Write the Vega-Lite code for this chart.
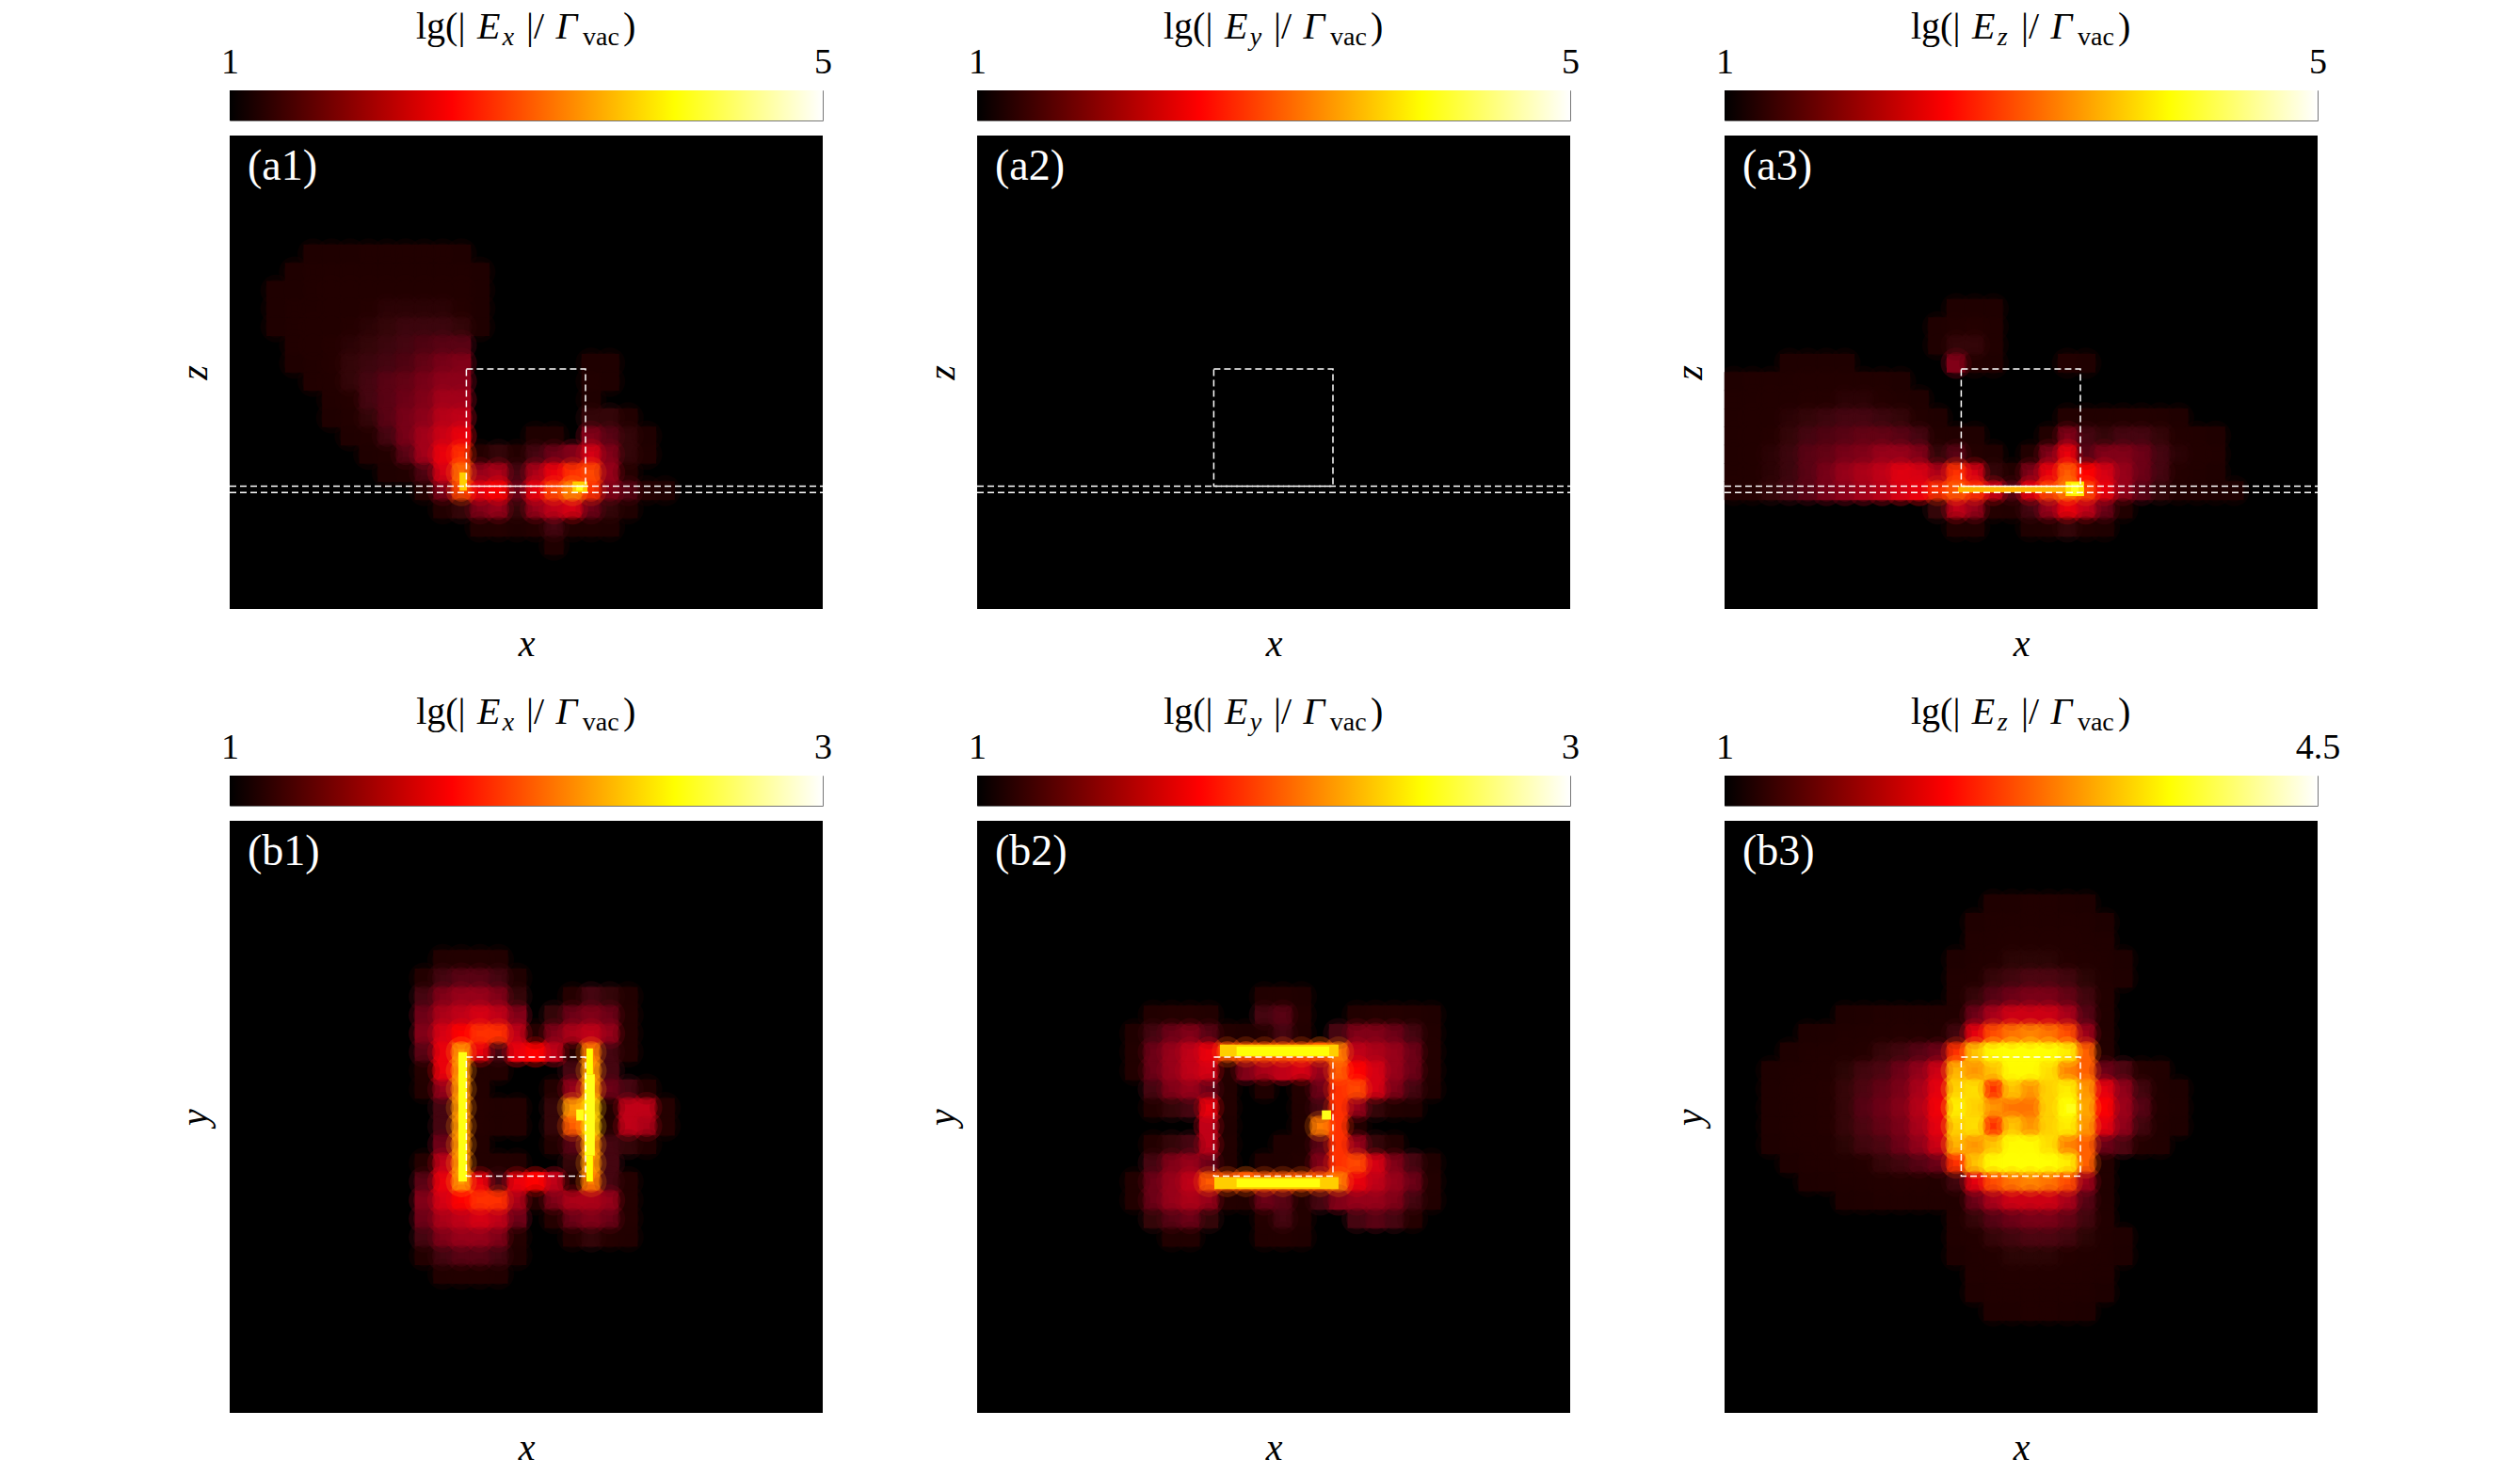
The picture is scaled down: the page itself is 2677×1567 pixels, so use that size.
{"$schema":"https://vega.github.io/schema/vega-lite/v6.json","background":"white","padding":{"left":187,"top":8,"right":0,"bottom":0},"resolve":{"scale":{"color":"independent"}},"config":{"view":{"stroke":null},"text":{"font":"Liberation Serif"},"axis":{"titleFont":"Liberation Serif","titleFontStyle":"italic","titleFontWeight":"normal","titleFontSize":40,"titleColor":"black","labels":false,"ticks":false,"domain":false,"grid":false,"titlePadding":17}},
"datasets":{
"a1":[
{"x":4,"y":6,"v":1.05},{"x":5,"y":6,"v":1.1},{"x":6,"y":6,"v":1.1},{"x":7,"y":6,"v":1.15},{"x":8,"y":6,"v":1.15},{"x":9,"y":6,"v":1.15},{"x":10,"y":6,"v":1.15},{"x":11,"y":6,"v":1.15},{"x":12,"y":6,"v":1.1},
{"x":3,"y":7,"v":1.05},{"x":4,"y":7,"v":1.15},{"x":5,"y":7,"v":1.2},{"x":6,"y":7,"v":1.2},{"x":7,"y":7,"v":1.25},{"x":8,"y":7,"v":1.25},{"x":9,"y":7,"v":1.25},{"x":10,"y":7,"v":1.25},{"x":11,"y":7,"v":1.25},{"x":12,"y":7,"v":1.2},{"x":13,"y":7,"v":1.05},
{"x":2,"y":8,"v":1.05},{"x":3,"y":8,"v":1.1},{"x":4,"y":8,"v":1.2},{"x":5,"y":8,"v":1.3},{"x":6,"y":8,"v":1.3},{"x":7,"y":8,"v":1.35},{"x":8,"y":8,"v":1.35},{"x":9,"y":8,"v":1.35},{"x":10,"y":8,"v":1.35},{"x":11,"y":8,"v":1.35},{"x":12,"y":8,"v":1.3},{"x":13,"y":8,"v":1.1},
{"x":2,"y":9,"v":1.05},{"x":3,"y":9,"v":1.15},{"x":4,"y":9,"v":1.25},{"x":5,"y":9,"v":1.3},{"x":6,"y":9,"v":1.35},{"x":7,"y":9,"v":1.4},{"x":8,"y":9,"v":1.45},{"x":9,"y":9,"v":1.45},{"x":10,"y":9,"v":1.45},{"x":11,"y":9,"v":1.45},{"x":12,"y":9,"v":1.4},{"x":13,"y":9,"v":1.1},
{"x":2,"y":10,"v":1.05},{"x":3,"y":10,"v":1.15},{"x":4,"y":10,"v":1.3},{"x":5,"y":10,"v":1.35},{"x":6,"y":10,"v":1.4},{"x":7,"y":10,"v":1.45},{"x":8,"y":10,"v":1.5},{"x":9,"y":10,"v":1.55},{"x":10,"y":10,"v":1.55},{"x":11,"y":10,"v":1.55},{"x":12,"y":10,"v":1.5},{"x":13,"y":10,"v":1.05},
{"x":3,"y":11,"v":1.15},{"x":4,"y":11,"v":1.3},{"x":5,"y":11,"v":1.4},{"x":6,"y":11,"v":1.45},{"x":7,"y":11,"v":1.5},{"x":8,"y":11,"v":1.55},{"x":9,"y":11,"v":1.6},{"x":10,"y":11,"v":1.65},{"x":11,"y":11,"v":1.7},{"x":12,"y":11,"v":1.7},
{"x":3,"y":12,"v":1.1},{"x":4,"y":12,"v":1.25},{"x":5,"y":12,"v":1.4},{"x":6,"y":12,"v":1.5},{"x":7,"y":12,"v":1.55},{"x":8,"y":12,"v":1.6},{"x":9,"y":12,"v":1.65},{"x":10,"y":12,"v":1.75},{"x":11,"y":12,"v":1.85},{"x":12,"y":12,"v":1.9},{"x":19,"y":12,"v":1.1},{"x":20,"y":12,"v":1.05},
{"x":4,"y":13,"v":1.2},{"x":5,"y":13,"v":1.35},{"x":6,"y":13,"v":1.5},{"x":7,"y":13,"v":1.6},{"x":8,"y":13,"v":1.7},{"x":9,"y":13,"v":1.75},{"x":10,"y":13,"v":1.85},{"x":11,"y":13,"v":1.95},{"x":12,"y":13,"v":1.95},{"x":19,"y":13,"v":1.2},{"x":20,"y":13,"v":1.1},
{"x":5,"y":14,"v":1.2},{"x":6,"y":14,"v":1.4},{"x":7,"y":14,"v":1.6},{"x":8,"y":14,"v":1.7},{"x":9,"y":14,"v":1.8},{"x":10,"y":14,"v":1.9},{"x":11,"y":14,"v":2.05},{"x":12,"y":14,"v":2.05},{"x":19,"y":14,"v":1.1},
{"x":5,"y":15,"v":1.1},{"x":6,"y":15,"v":1.3},{"x":7,"y":15,"v":1.5},{"x":8,"y":15,"v":1.7},{"x":9,"y":15,"v":1.85},{"x":10,"y":15,"v":1.95},{"x":11,"y":15,"v":2.15},{"x":12,"y":15,"v":2.2},{"x":19,"y":15,"v":1.5},{"x":20,"y":15,"v":1.5},{"x":21,"y":15,"v":1.2},
{"x":6,"y":16,"v":1.1},{"x":7,"y":16,"v":1.35},{"x":8,"y":16,"v":1.6},{"x":9,"y":16,"v":1.85},{"x":10,"y":16,"v":2.05},{"x":11,"y":16,"v":2.25},{"x":12,"y":16,"v":2.4},{"x":16,"y":16,"v":1.1},{"x":17,"y":16,"v":1.1},{"x":19,"y":16,"v":1.9},{"x":20,"y":16,"v":1.7},{"x":21,"y":16,"v":1.5},{"x":22,"y":16,"v":1.1},
{"x":7,"y":17,"v":1.1},{"x":8,"y":17,"v":1.35},{"x":9,"y":17,"v":1.7},{"x":10,"y":17,"v":2.05},{"x":11,"y":17,"v":2.4},{"x":12,"y":17,"v":2.6},{"x":13,"y":17,"v":1.4},{"x":14,"y":17,"v":1.5},{"x":15,"y":17,"v":1.3},{"x":16,"y":17,"v":1.6},{"x":17,"y":17,"v":1.8},{"x":18,"y":17,"v":1.9},{"x":19,"y":17,"v":2.3},{"x":20,"y":17,"v":1.9},{"x":21,"y":17,"v":1.5},{"x":22,"y":17,"v":1.15},
{"x":8,"y":18,"v":1.05},{"x":9,"y":18,"v":1.2},{"x":10,"y":18,"v":1.65},{"x":11,"y":18,"v":2.3},{"x":12,"y":18,"v":2.9},{"x":13,"y":18,"v":2},{"x":14,"y":18,"v":2.1},{"x":15,"y":18,"v":1.6},{"x":16,"y":18,"v":2.1},{"x":17,"y":18,"v":2.4},{"x":18,"y":18,"v":2.6},{"x":19,"y":18,"v":2.7},{"x":20,"y":18,"v":2},{"x":21,"y":18,"v":1.4},
{"x":10,"y":19,"v":1.3},{"x":11,"y":19,"v":1.9},{"x":12,"y":19,"v":2.7},{"x":13,"y":19,"v":2.4},{"x":14,"y":19,"v":2.5},{"x":15,"y":19,"v":1.8},{"x":16,"y":19,"v":2.4},{"x":17,"y":19,"v":2.7},{"x":18,"y":19,"v":3.1},{"x":19,"y":19,"v":2.6},{"x":20,"y":19,"v":1.9},{"x":21,"y":19,"v":1.7},{"x":22,"y":19,"v":1.4},{"x":23,"y":19,"v":1.1},
{"x":11,"y":20,"v":1.2},{"x":12,"y":20,"v":1.5},{"x":13,"y":20,"v":1.9},{"x":14,"y":20,"v":2},{"x":15,"y":20,"v":1.5},{"x":16,"y":20,"v":2},{"x":17,"y":20,"v":2.2},{"x":18,"y":20,"v":2.3},{"x":19,"y":20,"v":1.8},{"x":20,"y":20,"v":1.5},{"x":21,"y":20,"v":1.1},
{"x":13,"y":21,"v":1.2},{"x":14,"y":21,"v":1.4},{"x":15,"y":21,"v":1.1},{"x":16,"y":21,"v":1.4},{"x":17,"y":21,"v":1.6},{"x":18,"y":21,"v":1.2},{"x":19,"y":21,"v":1.2},{"x":20,"y":21,"v":1.05},{"x":17,"y":22,"v":1.1}],
"a1o":[{"x":11.9,"x2":12.3,"y":18,"y2":19,"v":3.6},{"x":18,"x2":18.8,"y":18.5,"y2":19.1,"v":3.6},{"x":18.2,"x2":18.55,"y":18.7,"y2":19,"v":5}],
"a3":[
{"x":12,"y":9,"v":1.05},{"x":13,"y":9,"v":1.1},{"x":14,"y":9,"v":1.05},
{"x":11,"y":10,"v":1.1},{"x":12,"y":10,"v":1.3},{"x":13,"y":10,"v":1.4},{"x":14,"y":10,"v":1.25},
{"x":11,"y":11,"v":1.1},{"x":12,"y":11,"v":1.5},{"x":13,"y":11,"v":1.5},{"x":14,"y":11,"v":1.2},
{"x":3,"y":12,"v":1.05},{"x":4,"y":12,"v":1.05},{"x":5,"y":12,"v":1.05},{"x":6,"y":12,"v":1.05},{"x":12,"y":12,"v":1.9},{"x":13,"y":12,"v":1.3},{"x":14,"y":12,"v":1.05},{"x":18,"y":12,"v":1.3},{"x":19,"y":12,"v":1.1},
{"x":0,"y":13,"v":1.1},{"x":1,"y":13,"v":1.15},{"x":2,"y":13,"v":1.2},{"x":3,"y":13,"v":1.25},{"x":4,"y":13,"v":1.3},{"x":5,"y":13,"v":1.3},{"x":6,"y":13,"v":1.3},{"x":7,"y":13,"v":1.25},{"x":8,"y":13,"v":1.15},{"x":9,"y":13,"v":1.05},
{"x":0,"y":14,"v":1.15},{"x":1,"y":14,"v":1.2},{"x":2,"y":14,"v":1.3},{"x":3,"y":14,"v":1.35},{"x":4,"y":14,"v":1.4},{"x":5,"y":14,"v":1.4},{"x":6,"y":14,"v":1.45},{"x":7,"y":14,"v":1.45},{"x":8,"y":14,"v":1.4},{"x":9,"y":14,"v":1.25},{"x":10,"y":14,"v":1.05},
{"x":0,"y":15,"v":1.2},{"x":1,"y":15,"v":1.3},{"x":2,"y":15,"v":1.35},{"x":3,"y":15,"v":1.45},{"x":4,"y":15,"v":1.5},{"x":5,"y":15,"v":1.55},{"x":6,"y":15,"v":1.6},{"x":7,"y":15,"v":1.6},{"x":8,"y":15,"v":1.55},{"x":9,"y":15,"v":1.5},{"x":10,"y":15,"v":1.3},{"x":11,"y":15,"v":1.05},{"x":18,"y":15,"v":1.3},{"x":19,"y":15,"v":1.2},{"x":20,"y":15,"v":1.2},{"x":21,"y":15,"v":1.3},{"x":22,"y":15,"v":1.3},{"x":23,"y":15,"v":1.2},{"x":24,"y":15,"v":1.1},
{"x":0,"y":16,"v":1.25},{"x":1,"y":16,"v":1.3},{"x":2,"y":16,"v":1.4},{"x":3,"y":16,"v":1.5},{"x":4,"y":16,"v":1.6},{"x":5,"y":16,"v":1.65},{"x":6,"y":16,"v":1.7},{"x":7,"y":16,"v":1.75},{"x":8,"y":16,"v":1.75},{"x":9,"y":16,"v":1.7},{"x":10,"y":16,"v":1.6},{"x":11,"y":16,"v":1.3},{"x":12,"y":16,"v":1.15},{"x":13,"y":16,"v":1.05},{"x":17,"y":16,"v":1.2},{"x":18,"y":16,"v":1.9},{"x":19,"y":16,"v":1.6},{"x":20,"y":16,"v":1.5},{"x":21,"y":16,"v":1.6},{"x":22,"y":16,"v":1.6},{"x":23,"y":16,"v":1.5},{"x":24,"y":16,"v":1.35},{"x":25,"y":16,"v":1.2},{"x":26,"y":16,"v":1.05},
{"x":0,"y":17,"v":1.25},{"x":1,"y":17,"v":1.35},{"x":2,"y":17,"v":1.45},{"x":3,"y":17,"v":1.55},{"x":4,"y":17,"v":1.7},{"x":5,"y":17,"v":1.75},{"x":6,"y":17,"v":1.85},{"x":7,"y":17,"v":1.9},{"x":8,"y":17,"v":2},{"x":9,"y":17,"v":2},{"x":10,"y":17,"v":1.9},{"x":11,"y":17,"v":1.5},{"x":12,"y":17,"v":1.7},{"x":13,"y":17,"v":1.4},{"x":14,"y":17,"v":1.1},{"x":16,"y":17,"v":1.2},{"x":17,"y":17,"v":1.9},{"x":18,"y":17,"v":2.4},{"x":19,"y":17,"v":1.7},{"x":20,"y":17,"v":1.9},{"x":21,"y":17,"v":1.9},{"x":22,"y":17,"v":1.8},{"x":23,"y":17,"v":1.6},{"x":24,"y":17,"v":1.45},{"x":25,"y":17,"v":1.3},{"x":26,"y":17,"v":1.15},
{"x":0,"y":18,"v":1.2},{"x":1,"y":18,"v":1.3},{"x":2,"y":18,"v":1.45},{"x":3,"y":18,"v":1.55},{"x":4,"y":18,"v":1.7},{"x":5,"y":18,"v":1.85},{"x":6,"y":18,"v":2},{"x":7,"y":18,"v":2.1},{"x":8,"y":18,"v":2.2},{"x":9,"y":18,"v":2.35},{"x":10,"y":18,"v":2.3},{"x":11,"y":18,"v":2.1},{"x":12,"y":18,"v":2.6},{"x":13,"y":18,"v":2.3},{"x":14,"y":18,"v":1.5},{"x":15,"y":18,"v":1.2},{"x":16,"y":18,"v":1.9},{"x":17,"y":18,"v":2.4},{"x":18,"y":18,"v":2.8},{"x":19,"y":18,"v":2.5},{"x":20,"y":18,"v":2.3},{"x":21,"y":18,"v":2},{"x":22,"y":18,"v":1.8},{"x":23,"y":18,"v":1.6},{"x":24,"y":18,"v":1.4},{"x":25,"y":18,"v":1.25},{"x":26,"y":18,"v":1.1},
{"x":0,"y":19,"v":1.3},{"x":1,"y":19,"v":1.4},{"x":2,"y":19,"v":1.5},{"x":3,"y":19,"v":1.6},{"x":4,"y":19,"v":1.7},{"x":5,"y":19,"v":1.85},{"x":6,"y":19,"v":1.95},{"x":7,"y":19,"v":2.05},{"x":8,"y":19,"v":2.15},{"x":9,"y":19,"v":2.3},{"x":10,"y":19,"v":2.4},{"x":11,"y":19,"v":2.6},{"x":12,"y":19,"v":2.8},{"x":13,"y":19,"v":2.6},{"x":14,"y":19,"v":2.3},{"x":15,"y":19,"v":1.7},{"x":16,"y":19,"v":2.4},{"x":17,"y":19,"v":2.7},{"x":18,"y":19,"v":3},{"x":19,"y":19,"v":2.7},{"x":20,"y":19,"v":2.4},{"x":21,"y":19,"v":2},{"x":22,"y":19,"v":1.7},{"x":23,"y":19,"v":1.5},{"x":24,"y":19,"v":1.3},{"x":25,"y":19,"v":1.2},{"x":26,"y":19,"v":1.1},{"x":27,"y":19,"v":1.05},
{"x":11,"y":20,"v":1.5},{"x":12,"y":20,"v":2.2},{"x":13,"y":20,"v":2},{"x":14,"y":20,"v":1.4},{"x":15,"y":20,"v":1.3},{"x":16,"y":20,"v":1.6},{"x":17,"y":20,"v":2},{"x":18,"y":20,"v":2.4},{"x":19,"y":20,"v":2.2},{"x":20,"y":20,"v":1.8},{"x":21,"y":20,"v":1.2},
{"x":12,"y":21,"v":1.2},{"x":13,"y":21,"v":1.15},{"x":16,"y":21,"v":1.1},{"x":17,"y":21,"v":1.3},{"x":18,"y":21,"v":1.5},{"x":19,"y":21,"v":1.3},{"x":20,"y":21,"v":1.1}],
"a3o":[{"x":12.1,"x2":18.2,"y":18.76,"y2":19.1,"v":3.4},{"x":17.9,"x2":18.9,"y":18.5,"y2":19.3,"v":3.8},{"x":18.2,"x2":18.6,"y":18.6,"y2":19.2,"v":5}],
"b1":[
{"x":11,"y":7,"v":1.1},{"x":12,"y":7,"v":1.15},{"x":13,"y":7,"v":1.15},{"x":14,"y":7,"v":1.1},
{"x":10,"y":8,"v":1.15},{"x":11,"y":8,"v":1.3},{"x":12,"y":8,"v":1.35},{"x":13,"y":8,"v":1.35},{"x":14,"y":8,"v":1.3},{"x":15,"y":8,"v":1.05},
{"x":10,"y":9,"v":1.3},{"x":11,"y":9,"v":1.45},{"x":12,"y":9,"v":1.5},{"x":13,"y":9,"v":1.5},{"x":14,"y":9,"v":1.45},{"x":15,"y":9,"v":1.25},{"x":18,"y":9,"v":1.2},{"x":19,"y":9,"v":1.3},{"x":20,"y":9,"v":1.25},{"x":21,"y":9,"v":1.1},
{"x":10,"y":10,"v":1.4},{"x":11,"y":10,"v":1.55},{"x":12,"y":10,"v":1.6},{"x":13,"y":10,"v":1.65},{"x":14,"y":10,"v":1.6},{"x":15,"y":10,"v":1.45},{"x":17,"y":10,"v":1.25},{"x":18,"y":10,"v":1.4},{"x":19,"y":10,"v":1.45},{"x":20,"y":10,"v":1.4},{"x":21,"y":10,"v":1.2},
{"x":10,"y":11,"v":1.45},{"x":11,"y":11,"v":1.65},{"x":12,"y":11,"v":1.75},{"x":13,"y":11,"v":1.8},{"x":14,"y":11,"v":1.8},{"x":15,"y":11,"v":1.6},{"x":16,"y":11,"v":1.2},{"x":17,"y":11,"v":1.45},{"x":18,"y":11,"v":1.55},{"x":19,"y":11,"v":1.6},{"x":20,"y":11,"v":1.5},{"x":21,"y":11,"v":1.2},
{"x":10,"y":12,"v":1.35},{"x":11,"y":12,"v":1.7},{"x":12,"y":12,"v":2.1},{"x":13,"y":12,"v":1.7},{"x":14,"y":12,"v":1.3},{"x":15,"y":12,"v":1.7},{"x":16,"y":12,"v":1.75},{"x":17,"y":12,"v":1.6},{"x":18,"y":12,"v":1.2},{"x":19,"y":12,"v":2},{"x":20,"y":12,"v":1.3},{"x":21,"y":12,"v":1.2},
{"x":10,"y":13,"v":1.2},{"x":11,"y":13,"v":1.7},{"x":12,"y":13,"v":2.1},{"x":13,"y":13,"v":1.1},{"x":14,"y":13,"v":1.15},{"x":18,"y":13,"v":1.3},{"x":19,"y":13,"v":2.1},{"x":20,"y":13,"v":1.3},
{"x":10,"y":14,"v":1.1},{"x":11,"y":14,"v":1.5},{"x":12,"y":14,"v":2.1},{"x":13,"y":14,"v":1.15},{"x":17,"y":14,"v":1.15},{"x":18,"y":14,"v":1.5},{"x":19,"y":14,"v":2.1},{"x":20,"y":14,"v":1.4},{"x":21,"y":14,"v":1.3},{"x":22,"y":14,"v":1.15},
{"x":11,"y":15,"v":1.3},{"x":12,"y":15,"v":2.1},{"x":13,"y":15,"v":1.2},{"x":14,"y":15,"v":1.1},{"x":15,"y":15,"v":1.15},{"x":17,"y":15,"v":1.25},{"x":18,"y":15,"v":2.1},{"x":19,"y":15,"v":2.3},{"x":20,"y":15,"v":1.1},{"x":21,"y":15,"v":1.6},{"x":22,"y":15,"v":1.6},{"x":23,"y":15,"v":1.2},
{"x":11,"y":16,"v":1.3},{"x":12,"y":16,"v":2.1},{"x":13,"y":16,"v":1.2},{"x":14,"y":16,"v":1.1},{"x":15,"y":16,"v":1.15},{"x":17,"y":16,"v":1.25},{"x":18,"y":16,"v":1.9},{"x":19,"y":16,"v":2.3},{"x":20,"y":16,"v":1.1},{"x":21,"y":16,"v":1.6},{"x":22,"y":16,"v":1.55},{"x":23,"y":16,"v":1.2},
{"x":11,"y":17,"v":1.4},{"x":12,"y":17,"v":2.1},{"x":13,"y":17,"v":1.15},{"x":17,"y":17,"v":1.1},{"x":18,"y":17,"v":1.35},{"x":19,"y":17,"v":2.1},{"x":20,"y":17,"v":1.3},{"x":21,"y":17,"v":1.25},{"x":22,"y":17,"v":1.1},
{"x":10,"y":18,"v":1.2},{"x":11,"y":18,"v":1.6},{"x":12,"y":18,"v":2.1},{"x":13,"y":18,"v":1.15},{"x":14,"y":18,"v":1.15},{"x":15,"y":18,"v":1.1},{"x":18,"y":18,"v":1.25},{"x":19,"y":18,"v":2.1},{"x":20,"y":18,"v":1.3},
{"x":10,"y":19,"v":1.35},{"x":11,"y":19,"v":1.7},{"x":12,"y":19,"v":2.1},{"x":13,"y":19,"v":1.7},{"x":14,"y":19,"v":1.3},{"x":15,"y":19,"v":1.7},{"x":16,"y":19,"v":1.75},{"x":17,"y":19,"v":1.6},{"x":18,"y":19,"v":1.2},{"x":19,"y":19,"v":2},{"x":20,"y":19,"v":1.3},{"x":21,"y":19,"v":1.2},
{"x":10,"y":20,"v":1.45},{"x":11,"y":20,"v":1.65},{"x":12,"y":20,"v":1.75},{"x":13,"y":20,"v":1.8},{"x":14,"y":20,"v":1.8},{"x":15,"y":20,"v":1.55},{"x":16,"y":20,"v":1.15},{"x":17,"y":20,"v":1.45},{"x":18,"y":20,"v":1.55},{"x":19,"y":20,"v":1.55},{"x":20,"y":20,"v":1.5},{"x":21,"y":20,"v":1.2},
{"x":10,"y":21,"v":1.4},{"x":11,"y":21,"v":1.55},{"x":12,"y":21,"v":1.6},{"x":13,"y":21,"v":1.65},{"x":14,"y":21,"v":1.6},{"x":15,"y":21,"v":1.4},{"x":17,"y":21,"v":1.2},{"x":18,"y":21,"v":1.4},{"x":19,"y":21,"v":1.45},{"x":20,"y":21,"v":1.4},{"x":21,"y":21,"v":1.2},
{"x":10,"y":22,"v":1.3},{"x":11,"y":22,"v":1.45},{"x":12,"y":22,"v":1.5},{"x":13,"y":22,"v":1.5},{"x":14,"y":22,"v":1.45},{"x":15,"y":22,"v":1.2},{"x":18,"y":22,"v":1.15},{"x":19,"y":22,"v":1.25},{"x":20,"y":22,"v":1.2},{"x":21,"y":22,"v":1.1},
{"x":10,"y":23,"v":1.15},{"x":11,"y":23,"v":1.3},{"x":12,"y":23,"v":1.35},{"x":13,"y":23,"v":1.35},{"x":14,"y":23,"v":1.3},{"x":15,"y":23,"v":1.05},
{"x":11,"y":24,"v":1.1},{"x":12,"y":24,"v":1.15},{"x":13,"y":24,"v":1.15},{"x":14,"y":24,"v":1.1}],
"b1o":[{"x":11.84,"x2":12.3,"y":12,"y2":19,"v":2.8},{"x":18.65,"x2":19.2,"y":13.2,"y2":17.6,"v":3},{"x":18.75,"x2":19.1,"y":11.8,"y2":13.2,"v":2.5},{"x":18.75,"x2":19.1,"y":17.6,"y2":19,"v":2.5},{"x":18.2,"x2":18.6,"y":15.1,"y2":15.7,"v":3}],
"b2":[
{"x":15,"y":9,"v":1.1},{"x":16,"y":9,"v":1.15},{"x":17,"y":9,"v":1.05},
{"x":9,"y":10,"v":1.1},{"x":10,"y":10,"v":1.2},{"x":11,"y":10,"v":1.2},{"x":12,"y":10,"v":1.1},{"x":15,"y":10,"v":1.3},{"x":16,"y":10,"v":1.35},{"x":17,"y":10,"v":1.2},{"x":20,"y":10,"v":1.1},{"x":21,"y":10,"v":1.2},{"x":22,"y":10,"v":1.2},{"x":23,"y":10,"v":1.15},{"x":24,"y":10,"v":1.05},
{"x":8,"y":11,"v":1.05},{"x":9,"y":11,"v":1.3},{"x":10,"y":11,"v":1.4},{"x":11,"y":11,"v":1.45},{"x":12,"y":11,"v":1.35},{"x":13,"y":11,"v":1.15},{"x":14,"y":11,"v":1.05},{"x":15,"y":11,"v":1.2},{"x":16,"y":11,"v":1.3},{"x":17,"y":11,"v":1.15},{"x":19,"y":11,"v":1.3},{"x":20,"y":11,"v":1.45},{"x":21,"y":11,"v":1.45},{"x":22,"y":11,"v":1.4},{"x":23,"y":11,"v":1.3},{"x":24,"y":11,"v":1.1},
{"x":8,"y":12,"v":1.1},{"x":9,"y":12,"v":1.4},{"x":10,"y":12,"v":1.5},{"x":11,"y":12,"v":1.6},{"x":12,"y":12,"v":1.7},{"x":13,"y":12,"v":1.9},{"x":14,"y":12,"v":1.9},{"x":15,"y":12,"v":1.9},{"x":16,"y":12,"v":1.9},{"x":17,"y":12,"v":1.9},{"x":18,"y":12,"v":1.9},{"x":19,"y":12,"v":2},{"x":20,"y":12,"v":1.6},{"x":21,"y":12,"v":1.55},{"x":22,"y":12,"v":1.5},{"x":23,"y":12,"v":1.4},{"x":24,"y":12,"v":1.15},
{"x":8,"y":13,"v":1.1},{"x":9,"y":13,"v":1.4},{"x":10,"y":13,"v":1.5},{"x":11,"y":13,"v":1.6},{"x":12,"y":13,"v":1.65},{"x":13,"y":13,"v":1.2},{"x":14,"y":13,"v":1.45},{"x":15,"y":13,"v":1.55},{"x":16,"y":13,"v":1.6},{"x":17,"y":13,"v":1.65},{"x":18,"y":13,"v":1.5},{"x":19,"y":13,"v":1.9},{"x":20,"y":13,"v":1.75},{"x":21,"y":13,"v":1.65},{"x":22,"y":13,"v":1.5},{"x":23,"y":13,"v":1.4},{"x":24,"y":13,"v":1.15},
{"x":9,"y":14,"v":1.3},{"x":10,"y":14,"v":1.45},{"x":11,"y":14,"v":1.5},{"x":12,"y":14,"v":1.4},{"x":13,"y":14,"v":1.1},{"x":15,"y":14,"v":1.05},{"x":17,"y":14,"v":1.15},{"x":18,"y":14,"v":1.4},{"x":19,"y":14,"v":1.8},{"x":20,"y":14,"v":1.85},{"x":21,"y":14,"v":1.65},{"x":22,"y":14,"v":1.45},{"x":23,"y":14,"v":1.3},{"x":24,"y":14,"v":1.05},
{"x":9,"y":15,"v":1.15},{"x":10,"y":15,"v":1.25},{"x":11,"y":15,"v":1.3},{"x":12,"y":15,"v":1.7},{"x":13,"y":15,"v":1.15},{"x":17,"y":15,"v":1.1},{"x":18,"y":15,"v":1.3},{"x":19,"y":15,"v":1.8},{"x":20,"y":15,"v":1.5},{"x":21,"y":15,"v":1.25},{"x":22,"y":15,"v":1.1},{"x":23,"y":15,"v":1.05},
{"x":12,"y":16,"v":1.6},{"x":13,"y":16,"v":1.05},{"x":17,"y":16,"v":1.1},{"x":18,"y":16,"v":2},{"x":19,"y":16,"v":1.8},{"x":20,"y":16,"v":1.1},
{"x":9,"y":17,"v":1.15},{"x":10,"y":17,"v":1.25},{"x":11,"y":17,"v":1.3},{"x":12,"y":17,"v":1.6},{"x":13,"y":17,"v":1.1},{"x":16,"y":17,"v":1.05},{"x":17,"y":17,"v":1.05},{"x":18,"y":17,"v":1.35},{"x":19,"y":17,"v":1.8},{"x":20,"y":17,"v":1.5},{"x":21,"y":17,"v":1.25},{"x":22,"y":17,"v":1.1},
{"x":9,"y":18,"v":1.3},{"x":10,"y":18,"v":1.45},{"x":11,"y":18,"v":1.5},{"x":12,"y":18,"v":1.4},{"x":13,"y":18,"v":1.1},{"x":15,"y":18,"v":1.05},{"x":16,"y":18,"v":1.05},{"x":17,"y":18,"v":1.15},{"x":18,"y":18,"v":1.45},{"x":19,"y":18,"v":1.8},{"x":20,"y":18,"v":1.85},{"x":21,"y":18,"v":1.65},{"x":22,"y":18,"v":1.45},{"x":23,"y":18,"v":1.3},{"x":24,"y":18,"v":1.05},
{"x":8,"y":19,"v":1.1},{"x":9,"y":19,"v":1.4},{"x":10,"y":19,"v":1.5},{"x":11,"y":19,"v":1.6},{"x":12,"y":19,"v":1.9},{"x":13,"y":19,"v":1.9},{"x":14,"y":19,"v":1.9},{"x":15,"y":19,"v":1.9},{"x":16,"y":19,"v":1.9},{"x":17,"y":19,"v":1.9},{"x":18,"y":19,"v":1.9},{"x":19,"y":19,"v":2},{"x":20,"y":19,"v":1.7},{"x":21,"y":19,"v":1.6},{"x":22,"y":19,"v":1.5},{"x":23,"y":19,"v":1.4},{"x":24,"y":19,"v":1.15},
{"x":8,"y":20,"v":1.1},{"x":9,"y":20,"v":1.4},{"x":10,"y":20,"v":1.5},{"x":11,"y":20,"v":1.55},{"x":12,"y":20,"v":1.5},{"x":13,"y":20,"v":1.2},{"x":14,"y":20,"v":1.1},{"x":15,"y":20,"v":1.4},{"x":16,"y":20,"v":1.35},{"x":17,"y":20,"v":1.15},{"x":18,"y":20,"v":1.3},{"x":19,"y":20,"v":1.45},{"x":20,"y":20,"v":1.5},{"x":21,"y":20,"v":1.5},{"x":22,"y":20,"v":1.45},{"x":23,"y":20,"v":1.3},{"x":24,"y":20,"v":1.1},
{"x":9,"y":21,"v":1.25},{"x":10,"y":21,"v":1.35},{"x":11,"y":21,"v":1.4},{"x":12,"y":21,"v":1.25},{"x":15,"y":21,"v":1.2},{"x":16,"y":21,"v":1.3},{"x":17,"y":21,"v":1.15},{"x":20,"y":21,"v":1.3},{"x":21,"y":21,"v":1.35},{"x":22,"y":21,"v":1.3},{"x":23,"y":21,"v":1.2},
{"x":10,"y":22,"v":1.1},{"x":11,"y":22,"v":1.1},{"x":15,"y":22,"v":1.1},{"x":16,"y":22,"v":1.15},{"x":17,"y":22,"v":1.05}],
"b2o":[{"x":12.6,"x2":19,"y":11.6,"y2":12.25,"v":2.3},{"x":13.5,"x2":18.5,"y":11.7,"y2":12.2,"v":2.6},{"x":12.3,"x2":19,"y":18.75,"y2":19.4,"v":2.3},{"x":13.5,"x2":18,"y":18.85,"y2":19.3,"v":2.7},{"x":18.1,"x2":18.6,"y":15.15,"y2":15.65,"v":3}],
"b3":[
{"x":14,"y":4,"v":1.05},{"x":15,"y":4,"v":1.08},{"x":16,"y":4,"v":1.1},{"x":17,"y":4,"v":1.1},{"x":18,"y":4,"v":1.05},{"x":19,"y":4,"v":1.02},
{"x":13,"y":5,"v":1.05},{"x":14,"y":5,"v":1.12},{"x":15,"y":5,"v":1.15},{"x":16,"y":5,"v":1.2},{"x":17,"y":5,"v":1.2},{"x":18,"y":5,"v":1.15},{"x":19,"y":5,"v":1.1},{"x":20,"y":5,"v":1.03},
{"x":13,"y":6,"v":1.1},{"x":14,"y":6,"v":1.2},{"x":15,"y":6,"v":1.25},{"x":16,"y":6,"v":1.3},{"x":17,"y":6,"v":1.3},{"x":18,"y":6,"v":1.25},{"x":19,"y":6,"v":1.2},{"x":20,"y":6,"v":1.1},
{"x":12,"y":7,"v":1.03},{"x":13,"y":7,"v":1.2},{"x":14,"y":7,"v":1.3},{"x":15,"y":7,"v":1.4},{"x":16,"y":7,"v":1.4},{"x":17,"y":7,"v":1.4},{"x":18,"y":7,"v":1.35},{"x":19,"y":7,"v":1.3},{"x":20,"y":7,"v":1.15},{"x":21,"y":7,"v":1.03},
{"x":12,"y":8,"v":1.1},{"x":13,"y":8,"v":1.3},{"x":14,"y":8,"v":1.45},{"x":15,"y":8,"v":1.5},{"x":16,"y":8,"v":1.55},{"x":17,"y":8,"v":1.55},{"x":18,"y":8,"v":1.5},{"x":19,"y":8,"v":1.4},{"x":20,"y":8,"v":1.2},{"x":21,"y":8,"v":1.05},
{"x":12,"y":9,"v":1.15},{"x":13,"y":9,"v":1.45},{"x":14,"y":9,"v":1.6},{"x":15,"y":9,"v":1.7},{"x":16,"y":9,"v":1.75},{"x":17,"y":9,"v":1.75},{"x":18,"y":9,"v":1.65},{"x":19,"y":9,"v":1.5},{"x":20,"y":9,"v":1.25},
{"x":6,"y":10,"v":1.03},{"x":7,"y":10,"v":1.08},{"x":8,"y":10,"v":1.12},{"x":9,"y":10,"v":1.15},{"x":10,"y":10,"v":1.15},{"x":11,"y":10,"v":1.1},{"x":12,"y":10,"v":1.2},{"x":13,"y":10,"v":1.7},{"x":14,"y":10,"v":1.95},{"x":15,"y":10,"v":2.1},{"x":16,"y":10,"v":2.1},{"x":17,"y":10,"v":2.1},{"x":18,"y":10,"v":1.95},{"x":19,"y":10,"v":1.6},{"x":20,"y":10,"v":1.2},
{"x":4,"y":11,"v":1.03},{"x":5,"y":11,"v":1.08},{"x":6,"y":11,"v":1.15},{"x":7,"y":11,"v":1.2},{"x":8,"y":11,"v":1.3},{"x":9,"y":11,"v":1.35},{"x":10,"y":11,"v":1.35},{"x":11,"y":11,"v":1.3},{"x":12,"y":11,"v":1.5},{"x":13,"y":11,"v":2.2},{"x":14,"y":11,"v":2.5},{"x":15,"y":11,"v":2.7},{"x":16,"y":11,"v":2.8},{"x":17,"y":11,"v":2.7},{"x":18,"y":11,"v":2.5},{"x":19,"y":11,"v":1.9},{"x":20,"y":11,"v":1.1},
{"x":3,"y":12,"v":1.03},{"x":4,"y":12,"v":1.1},{"x":5,"y":12,"v":1.2},{"x":6,"y":12,"v":1.3},{"x":7,"y":12,"v":1.35},{"x":8,"y":12,"v":1.45},{"x":9,"y":12,"v":1.5},{"x":10,"y":12,"v":1.6},{"x":11,"y":12,"v":1.7},{"x":12,"y":12,"v":2.4},{"x":13,"y":12,"v":3.2},{"x":14,"y":12,"v":3.6},{"x":15,"y":12,"v":3.7},{"x":16,"y":12,"v":3.7},{"x":17,"y":12,"v":3.7},{"x":18,"y":12,"v":3.5},{"x":19,"y":12,"v":2.6},{"x":20,"y":12,"v":1.3},
{"x":2,"y":13,"v":1.03},{"x":3,"y":13,"v":1.1},{"x":4,"y":13,"v":1.2},{"x":5,"y":13,"v":1.3},{"x":6,"y":13,"v":1.4},{"x":7,"y":13,"v":1.5},{"x":8,"y":13,"v":1.55},{"x":9,"y":13,"v":1.7},{"x":10,"y":13,"v":1.85},{"x":11,"y":13,"v":2.1},{"x":12,"y":13,"v":3.1},{"x":13,"y":13,"v":2.9},{"x":14,"y":13,"v":3.2},{"x":15,"y":13,"v":3.6},{"x":16,"y":13,"v":3.6},{"x":17,"y":13,"v":3.4},{"x":18,"y":13,"v":2.8},{"x":19,"y":13,"v":2.6},{"x":20,"y":13,"v":1.7},{"x":21,"y":13,"v":1.55},{"x":22,"y":13,"v":1.35},{"x":23,"y":13,"v":1.1},
{"x":2,"y":14,"v":1.05},{"x":3,"y":14,"v":1.15},{"x":4,"y":14,"v":1.25},{"x":5,"y":14,"v":1.35},{"x":6,"y":14,"v":1.45},{"x":7,"y":14,"v":1.55},{"x":8,"y":14,"v":1.65},{"x":9,"y":14,"v":1.75},{"x":10,"y":14,"v":1.95},{"x":11,"y":14,"v":2.2},{"x":12,"y":14,"v":3.3},{"x":13,"y":14,"v":3.4},{"x":14,"y":14,"v":2.4},{"x":15,"y":14,"v":3.2},{"x":16,"y":14,"v":2.9},{"x":17,"y":14,"v":3.3},{"x":18,"y":14,"v":3.5},{"x":19,"y":14,"v":2.9},{"x":20,"y":14,"v":2.2},{"x":21,"y":14,"v":1.85},{"x":22,"y":14,"v":1.5},{"x":23,"y":14,"v":1.2},{"x":24,"y":14,"v":1.03},
{"x":2,"y":15,"v":1.05},{"x":3,"y":15,"v":1.15},{"x":4,"y":15,"v":1.25},{"x":5,"y":15,"v":1.35},{"x":6,"y":15,"v":1.45},{"x":7,"y":15,"v":1.6},{"x":8,"y":15,"v":1.7},{"x":9,"y":15,"v":1.8},{"x":10,"y":15,"v":2},{"x":11,"y":15,"v":2.25},{"x":12,"y":15,"v":3.5},{"x":13,"y":15,"v":3.3},{"x":14,"y":15,"v":2.9},{"x":15,"y":15,"v":2.7},{"x":16,"y":15,"v":2.7},{"x":17,"y":15,"v":3.3},{"x":18,"y":15,"v":3.7},{"x":19,"y":15,"v":3},{"x":20,"y":15,"v":2.3},{"x":21,"y":15,"v":1.9},{"x":22,"y":15,"v":1.6},{"x":23,"y":15,"v":1.25},{"x":24,"y":15,"v":1.05},
{"x":2,"y":16,"v":1.05},{"x":3,"y":16,"v":1.15},{"x":4,"y":16,"v":1.25},{"x":5,"y":16,"v":1.35},{"x":6,"y":16,"v":1.45},{"x":7,"y":16,"v":1.55},{"x":8,"y":16,"v":1.65},{"x":9,"y":16,"v":1.75},{"x":10,"y":16,"v":1.95},{"x":11,"y":16,"v":2.2},{"x":12,"y":16,"v":3.3},{"x":13,"y":16,"v":3.4},{"x":14,"y":16,"v":2.4},{"x":15,"y":16,"v":3.2},{"x":16,"y":16,"v":2.9},{"x":17,"y":16,"v":3.3},{"x":18,"y":16,"v":3.5},{"x":19,"y":16,"v":2.9},{"x":20,"y":16,"v":2.2},{"x":21,"y":16,"v":1.85},{"x":22,"y":16,"v":1.5},{"x":23,"y":16,"v":1.2},{"x":24,"y":16,"v":1.03},
{"x":2,"y":17,"v":1.03},{"x":3,"y":17,"v":1.1},{"x":4,"y":17,"v":1.2},{"x":5,"y":17,"v":1.3},{"x":6,"y":17,"v":1.4},{"x":7,"y":17,"v":1.5},{"x":8,"y":17,"v":1.55},{"x":9,"y":17,"v":1.7},{"x":10,"y":17,"v":1.85},{"x":11,"y":17,"v":2.1},{"x":12,"y":17,"v":3.1},{"x":13,"y":17,"v":2.9},{"x":14,"y":17,"v":3.2},{"x":15,"y":17,"v":3.6},{"x":16,"y":17,"v":3.6},{"x":17,"y":17,"v":3.4},{"x":18,"y":17,"v":2.8},{"x":19,"y":17,"v":2.6},{"x":20,"y":17,"v":1.7},{"x":21,"y":17,"v":1.55},{"x":22,"y":17,"v":1.35},{"x":23,"y":17,"v":1.1},
{"x":3,"y":18,"v":1.03},{"x":4,"y":18,"v":1.1},{"x":5,"y":18,"v":1.2},{"x":6,"y":18,"v":1.3},{"x":7,"y":18,"v":1.35},{"x":8,"y":18,"v":1.45},{"x":9,"y":18,"v":1.5},{"x":10,"y":18,"v":1.6},{"x":11,"y":18,"v":1.7},{"x":12,"y":18,"v":2.4},{"x":13,"y":18,"v":3.2},{"x":14,"y":18,"v":3.6},{"x":15,"y":18,"v":3.7},{"x":16,"y":18,"v":3.7},{"x":17,"y":18,"v":3.7},{"x":18,"y":18,"v":3.5},{"x":19,"y":18,"v":2.6},{"x":20,"y":18,"v":1.3},
{"x":4,"y":19,"v":1.03},{"x":5,"y":19,"v":1.08},{"x":6,"y":19,"v":1.15},{"x":7,"y":19,"v":1.2},{"x":8,"y":19,"v":1.3},{"x":9,"y":19,"v":1.35},{"x":10,"y":19,"v":1.35},{"x":11,"y":19,"v":1.3},{"x":12,"y":19,"v":1.5},{"x":13,"y":19,"v":2.2},{"x":14,"y":19,"v":2.5},{"x":15,"y":19,"v":2.7},{"x":16,"y":19,"v":2.8},{"x":17,"y":19,"v":2.7},{"x":18,"y":19,"v":2.5},{"x":19,"y":19,"v":1.9},{"x":20,"y":19,"v":1.1},
{"x":6,"y":20,"v":1.03},{"x":7,"y":20,"v":1.08},{"x":8,"y":20,"v":1.12},{"x":9,"y":20,"v":1.15},{"x":10,"y":20,"v":1.15},{"x":11,"y":20,"v":1.1},{"x":12,"y":20,"v":1.2},{"x":13,"y":20,"v":1.7},{"x":14,"y":20,"v":1.95},{"x":15,"y":20,"v":2.1},{"x":16,"y":20,"v":2.1},{"x":17,"y":20,"v":2.1},{"x":18,"y":20,"v":1.95},{"x":19,"y":20,"v":1.6},{"x":20,"y":20,"v":1.2},
{"x":12,"y":21,"v":1.15},{"x":13,"y":21,"v":1.45},{"x":14,"y":21,"v":1.6},{"x":15,"y":21,"v":1.7},{"x":16,"y":21,"v":1.75},{"x":17,"y":21,"v":1.75},{"x":18,"y":21,"v":1.65},{"x":19,"y":21,"v":1.5},{"x":20,"y":21,"v":1.25},
{"x":12,"y":22,"v":1.1},{"x":13,"y":22,"v":1.3},{"x":14,"y":22,"v":1.45},{"x":15,"y":22,"v":1.5},{"x":16,"y":22,"v":1.55},{"x":17,"y":22,"v":1.55},{"x":18,"y":22,"v":1.5},{"x":19,"y":22,"v":1.4},{"x":20,"y":22,"v":1.2},{"x":21,"y":22,"v":1.05},
{"x":12,"y":23,"v":1.03},{"x":13,"y":23,"v":1.2},{"x":14,"y":23,"v":1.3},{"x":15,"y":23,"v":1.4},{"x":16,"y":23,"v":1.4},{"x":17,"y":23,"v":1.4},{"x":18,"y":23,"v":1.35},{"x":19,"y":23,"v":1.3},{"x":20,"y":23,"v":1.15},{"x":21,"y":23,"v":1.03},
{"x":13,"y":24,"v":1.1},{"x":14,"y":24,"v":1.2},{"x":15,"y":24,"v":1.25},{"x":16,"y":24,"v":1.3},{"x":17,"y":24,"v":1.3},{"x":18,"y":24,"v":1.25},{"x":19,"y":24,"v":1.2},{"x":20,"y":24,"v":1.1},
{"x":13,"y":25,"v":1.05},{"x":14,"y":25,"v":1.12},{"x":15,"y":25,"v":1.15},{"x":16,"y":25,"v":1.2},{"x":17,"y":25,"v":1.2},{"x":18,"y":25,"v":1.15},{"x":19,"y":25,"v":1.1},{"x":20,"y":25,"v":1.03},
{"x":14,"y":26,"v":1.05},{"x":15,"y":26,"v":1.08},{"x":16,"y":26,"v":1.1},{"x":17,"y":26,"v":1.1},{"x":18,"y":26,"v":1.05},{"x":19,"y":26,"v":1.02}],
"b3o":[{"x":17.95,"x2":18.45,"y":14.8,"y2":15.3,"v":4.5}],
"boxa":[{"x":12.27,"x2":18.7,"y":12.32,"y2":18.76}],
"boxb":[{"x":12.27,"x2":18.7,"y":12.27,"y2":18.7}],
"lines":[{"x":-0.5,"x2":31.5,"y":18.76},{"x":-0.5,"x2":31.5,"y":19.1}]
},
"columns":3,"bounds":"flush","spacing":{"row":16,"column":164},"concat":[
{"width":630,"height":32,"view":{"stroke":"#777"},"data":{"values":[{"lo":1,"hi":5}]},"layer":[{"mark":{"type":"rect","color":{"x1":0,"y1":0,"x2":1,"y2":0,"gradient":"linear","stops":[{"offset":0,"color":"#000"},{"offset":0.375,"color":"#f00"},{"offset":0.75,"color":"#ff0"},{"offset":1,"color":"#fff"}]}},"encoding":{"x":{"field":"lo","type":"quantitative","scale":{"domain":[1,5],"nice":false,"zero":false},"axis":{"orient":"top","values":[1,5],"format":"~g","title":null,"labels":true,"labelFont":"Liberation Serif","labelFontSize":38,"labelColor":"black","labelPadding":11,"labelFlush":false,"labelBound":false,"labelOverlap":false}},"x2":{"field":"hi"}}},
{"mark":{"type":"text","text":"lg(|","fontSize":40,"align":"left","baseline":"alphabetic","dy":-71},"encoding":{"x":{"datum":2.257}}},
{"mark":{"type":"text","text":"E","fontStyle":"italic","fontSize":40,"align":"left","baseline":"alphabetic","dy":-71},"encoding":{"x":{"datum":2.67}}},
{"mark":{"type":"text","text":"x","fontStyle":"italic","fontSize":28,"align":"left","baseline":"alphabetic","dy":-64},"encoding":{"x":{"datum":2.84}}},
{"mark":{"type":"text","text":"|/","fontSize":40,"align":"left","baseline":"alphabetic","dy":-71},"encoding":{"x":{"datum":3.0}}},
{"mark":{"type":"text","text":"Γ","fontStyle":"italic","fontSize":40,"align":"left","baseline":"alphabetic","dy":-71},"encoding":{"x":{"datum":3.2}}},
{"mark":{"type":"text","text":"vac","fontSize":28,"align":"left","baseline":"alphabetic","dy":-64},"encoding":{"x":{"datum":3.381}}},
{"mark":{"type":"text","text":")","fontSize":40,"align":"left","baseline":"alphabetic","dy":-71},"encoding":{"x":{"datum":3.654}}}]},
{"width":630,"height":32,"view":{"stroke":"#777"},"data":{"values":[{"lo":1,"hi":5}]},"layer":[{"mark":{"type":"rect","color":{"x1":0,"y1":0,"x2":1,"y2":0,"gradient":"linear","stops":[{"offset":0,"color":"#000"},{"offset":0.375,"color":"#f00"},{"offset":0.75,"color":"#ff0"},{"offset":1,"color":"#fff"}]}},"encoding":{"x":{"field":"lo","type":"quantitative","scale":{"domain":[1,5],"nice":false,"zero":false},"axis":{"orient":"top","values":[1,5],"format":"~g","title":null,"labels":true,"labelFont":"Liberation Serif","labelFontSize":38,"labelColor":"black","labelPadding":11,"labelFlush":false,"labelBound":false,"labelOverlap":false}},"x2":{"field":"hi"}}},
{"mark":{"type":"text","text":"lg(|","fontSize":40,"align":"left","baseline":"alphabetic","dy":-71},"encoding":{"x":{"datum":2.257}}},
{"mark":{"type":"text","text":"E","fontStyle":"italic","fontSize":40,"align":"left","baseline":"alphabetic","dy":-71},"encoding":{"x":{"datum":2.67}}},
{"mark":{"type":"text","text":"y","fontStyle":"italic","fontSize":28,"align":"left","baseline":"alphabetic","dy":-64},"encoding":{"x":{"datum":2.84}}},
{"mark":{"type":"text","text":"|/","fontSize":40,"align":"left","baseline":"alphabetic","dy":-71},"encoding":{"x":{"datum":3.0}}},
{"mark":{"type":"text","text":"Γ","fontStyle":"italic","fontSize":40,"align":"left","baseline":"alphabetic","dy":-71},"encoding":{"x":{"datum":3.2}}},
{"mark":{"type":"text","text":"vac","fontSize":28,"align":"left","baseline":"alphabetic","dy":-64},"encoding":{"x":{"datum":3.381}}},
{"mark":{"type":"text","text":")","fontSize":40,"align":"left","baseline":"alphabetic","dy":-71},"encoding":{"x":{"datum":3.654}}}]},
{"width":630,"height":32,"view":{"stroke":"#777"},"data":{"values":[{"lo":1,"hi":5}]},"layer":[{"mark":{"type":"rect","color":{"x1":0,"y1":0,"x2":1,"y2":0,"gradient":"linear","stops":[{"offset":0,"color":"#000"},{"offset":0.375,"color":"#f00"},{"offset":0.75,"color":"#ff0"},{"offset":1,"color":"#fff"}]}},"encoding":{"x":{"field":"lo","type":"quantitative","scale":{"domain":[1,5],"nice":false,"zero":false},"axis":{"orient":"top","values":[1,5],"format":"~g","title":null,"labels":true,"labelFont":"Liberation Serif","labelFontSize":38,"labelColor":"black","labelPadding":11,"labelFlush":false,"labelBound":false,"labelOverlap":false}},"x2":{"field":"hi"}}},
{"mark":{"type":"text","text":"lg(|","fontSize":40,"align":"left","baseline":"alphabetic","dy":-71},"encoding":{"x":{"datum":2.257}}},
{"mark":{"type":"text","text":"E","fontStyle":"italic","fontSize":40,"align":"left","baseline":"alphabetic","dy":-71},"encoding":{"x":{"datum":2.67}}},
{"mark":{"type":"text","text":"z","fontStyle":"italic","fontSize":28,"align":"left","baseline":"alphabetic","dy":-64},"encoding":{"x":{"datum":2.84}}},
{"mark":{"type":"text","text":"|/","fontSize":40,"align":"left","baseline":"alphabetic","dy":-71},"encoding":{"x":{"datum":3.0}}},
{"mark":{"type":"text","text":"Γ","fontStyle":"italic","fontSize":40,"align":"left","baseline":"alphabetic","dy":-71},"encoding":{"x":{"datum":3.2}}},
{"mark":{"type":"text","text":"vac","fontSize":28,"align":"left","baseline":"alphabetic","dy":-64},"encoding":{"x":{"datum":3.381}}},
{"mark":{"type":"text","text":")","fontSize":40,"align":"left","baseline":"alphabetic","dy":-71},"encoding":{"x":{"datum":3.654}}}]},
{"width":630,"height":503,"view":{"fill":"black"},"encoding":{"x":{"field":"x","type":"quantitative","scale":{"domain":[-0.5,31.5],"nice":false,"zero":false},"axis":{"title":"x"}},"y":{"field":"y","type":"quantitative","scale":{"domain":[-0.5,25.5],"nice":false,"zero":false,"reverse":true},"axis":{"title":"z"}},"color":{"field":"v","type":"quantitative","legend":null,"scale":{"domain":[1,1.4,2.5,4,5],"range":["#000","#240000","#f00","#ff0","#fff"],"clamp":true}}},"layer":[
{"data":{"name":"a1"},"mark":{"type":"rect","width":20.2,"height":19.9}},
{"data":{"name":"a1"},"mark":{"type":"circle","size":1100,"opacity":0.3,"clip":true},"encoding":{"order":{"field":"v"}}},
{"data":{"name":"a1"},"mark":{"type":"circle","size":550,"opacity":0.35,"clip":true},"encoding":{"order":{"field":"v"}}},
{"data":{"name":"a1o"},"mark":"rect","encoding":{"x2":{"field":"x2"},"y2":{"field":"y2"}}},
{"data":{"name":"boxa"},"mark":{"type":"rect","fill":"transparent","stroke":"white","strokeDash":[7,4],"strokeWidth":1.5},"encoding":{"x2":{"field":"x2"},"y2":{"field":"y2"},"color":{"value":null}}},
{"data":{"name":"lines"},"mark":{"type":"rule","stroke":"white","strokeDash":[7,4],"strokeWidth":1.5},"encoding":{"x2":{"field":"x2"},"color":{"value":"white"}}},
{"data":{"values":[{"x":0.46,"y":1.91,"t":"(a1)"}]},"mark":{"type":"text","fontSize":46,"align":"left","baseline":"alphabetic"},"encoding":{"text":{"field":"t"},"color":{"value":"white"}}}]},
{"width":630,"height":503,"view":{"fill":"black"},"encoding":{"x":{"field":"x","type":"quantitative","scale":{"domain":[-0.5,31.5],"nice":false,"zero":false},"axis":{"title":"x"}},"y":{"field":"y","type":"quantitative","scale":{"domain":[-0.5,25.5],"nice":false,"zero":false,"reverse":true},"axis":{"title":"z"}}},"layer":[
{"data":{"name":"boxa"},"mark":{"type":"rect","fill":"transparent","stroke":"white","strokeDash":[7,4],"strokeWidth":1.5},"encoding":{"x2":{"field":"x2"},"y2":{"field":"y2"}}},
{"data":{"name":"lines"},"mark":{"type":"rule","stroke":"white","strokeDash":[7,4],"strokeWidth":1.5},"encoding":{"x2":{"field":"x2"}}},
{"data":{"values":[{"x":0.46,"y":1.91,"t":"(a2)"}]},"mark":{"type":"text","color":"white","fontSize":46,"align":"left","baseline":"alphabetic"},"encoding":{"text":{"field":"t"}}}]},
{"width":630,"height":503,"view":{"fill":"black"},"encoding":{"x":{"field":"x","type":"quantitative","scale":{"domain":[-0.5,31.5],"nice":false,"zero":false},"axis":{"title":"x"}},"y":{"field":"y","type":"quantitative","scale":{"domain":[-0.5,25.5],"nice":false,"zero":false,"reverse":true},"axis":{"title":"z"}},"color":{"field":"v","type":"quantitative","legend":null,"scale":{"domain":[1,1.4,2.5,4,5],"range":["#000","#240000","#f00","#ff0","#fff"],"clamp":true}}},"layer":[
{"data":{"name":"a3"},"mark":{"type":"rect","width":20.2,"height":19.9}},
{"data":{"name":"a3"},"mark":{"type":"circle","size":1100,"opacity":0.3,"clip":true},"encoding":{"order":{"field":"v"}}},
{"data":{"name":"a3"},"mark":{"type":"circle","size":550,"opacity":0.35,"clip":true},"encoding":{"order":{"field":"v"}}},
{"data":{"name":"a3o"},"mark":"rect","encoding":{"x2":{"field":"x2"},"y2":{"field":"y2"}}},
{"data":{"name":"boxa"},"mark":{"type":"rect","fill":"transparent","stroke":"white","strokeDash":[7,4],"strokeWidth":1.5},"encoding":{"x2":{"field":"x2"},"y2":{"field":"y2"},"color":{"value":null}}},
{"data":{"name":"lines"},"mark":{"type":"rule","stroke":"white","strokeDash":[7,4],"strokeWidth":1.5},"encoding":{"x2":{"field":"x2"},"color":{"value":"white"}}},
{"data":{"values":[{"x":0.46,"y":1.91,"t":"(a3)"}]},"mark":{"type":"text","fontSize":46,"align":"left","baseline":"alphabetic"},"encoding":{"text":{"field":"t"},"color":{"value":"white"}}}]},
{"width":630,"height":145,"data":{"values":[]},"mark":"point"},{"width":630,"height":145,"data":{"values":[]},"mark":"point"},{"width":630,"height":145,"data":{"values":[]},"mark":"point"},
{"width":630,"height":32,"view":{"stroke":"#777"},"data":{"values":[{"lo":1,"hi":3}]},"layer":[{"mark":{"type":"rect","color":{"x1":0,"y1":0,"x2":1,"y2":0,"gradient":"linear","stops":[{"offset":0,"color":"#000"},{"offset":0.375,"color":"#f00"},{"offset":0.75,"color":"#ff0"},{"offset":1,"color":"#fff"}]}},"encoding":{"x":{"field":"lo","type":"quantitative","scale":{"domain":[1,3],"nice":false,"zero":false},"axis":{"orient":"top","values":[1,3],"format":"~g","title":null,"labels":true,"labelFont":"Liberation Serif","labelFontSize":38,"labelColor":"black","labelPadding":11,"labelFlush":false,"labelBound":false,"labelOverlap":false}},"x2":{"field":"hi"}}},
{"mark":{"type":"text","text":"lg(|","fontSize":40,"align":"left","baseline":"alphabetic","dy":-71},"encoding":{"x":{"datum":1.629}}},
{"mark":{"type":"text","text":"E","fontStyle":"italic","fontSize":40,"align":"left","baseline":"alphabetic","dy":-71},"encoding":{"x":{"datum":1.835}}},
{"mark":{"type":"text","text":"x","fontStyle":"italic","fontSize":28,"align":"left","baseline":"alphabetic","dy":-64},"encoding":{"x":{"datum":1.92}}},
{"mark":{"type":"text","text":"|/","fontSize":40,"align":"left","baseline":"alphabetic","dy":-71},"encoding":{"x":{"datum":2.0}}},
{"mark":{"type":"text","text":"Γ","fontStyle":"italic","fontSize":40,"align":"left","baseline":"alphabetic","dy":-71},"encoding":{"x":{"datum":2.1}}},
{"mark":{"type":"text","text":"vac","fontSize":28,"align":"left","baseline":"alphabetic","dy":-64},"encoding":{"x":{"datum":2.19}}},
{"mark":{"type":"text","text":")","fontSize":40,"align":"left","baseline":"alphabetic","dy":-71},"encoding":{"x":{"datum":2.327}}}]},
{"width":630,"height":32,"view":{"stroke":"#777"},"data":{"values":[{"lo":1,"hi":3}]},"layer":[{"mark":{"type":"rect","color":{"x1":0,"y1":0,"x2":1,"y2":0,"gradient":"linear","stops":[{"offset":0,"color":"#000"},{"offset":0.375,"color":"#f00"},{"offset":0.75,"color":"#ff0"},{"offset":1,"color":"#fff"}]}},"encoding":{"x":{"field":"lo","type":"quantitative","scale":{"domain":[1,3],"nice":false,"zero":false},"axis":{"orient":"top","values":[1,3],"format":"~g","title":null,"labels":true,"labelFont":"Liberation Serif","labelFontSize":38,"labelColor":"black","labelPadding":11,"labelFlush":false,"labelBound":false,"labelOverlap":false}},"x2":{"field":"hi"}}},
{"mark":{"type":"text","text":"lg(|","fontSize":40,"align":"left","baseline":"alphabetic","dy":-71},"encoding":{"x":{"datum":1.629}}},
{"mark":{"type":"text","text":"E","fontStyle":"italic","fontSize":40,"align":"left","baseline":"alphabetic","dy":-71},"encoding":{"x":{"datum":1.835}}},
{"mark":{"type":"text","text":"y","fontStyle":"italic","fontSize":28,"align":"left","baseline":"alphabetic","dy":-64},"encoding":{"x":{"datum":1.92}}},
{"mark":{"type":"text","text":"|/","fontSize":40,"align":"left","baseline":"alphabetic","dy":-71},"encoding":{"x":{"datum":2.0}}},
{"mark":{"type":"text","text":"Γ","fontStyle":"italic","fontSize":40,"align":"left","baseline":"alphabetic","dy":-71},"encoding":{"x":{"datum":2.1}}},
{"mark":{"type":"text","text":"vac","fontSize":28,"align":"left","baseline":"alphabetic","dy":-64},"encoding":{"x":{"datum":2.19}}},
{"mark":{"type":"text","text":")","fontSize":40,"align":"left","baseline":"alphabetic","dy":-71},"encoding":{"x":{"datum":2.327}}}]},
{"width":630,"height":32,"view":{"stroke":"#777"},"data":{"values":[{"lo":1,"hi":4.5}]},"layer":[{"mark":{"type":"rect","color":{"x1":0,"y1":0,"x2":1,"y2":0,"gradient":"linear","stops":[{"offset":0,"color":"#000"},{"offset":0.375,"color":"#f00"},{"offset":0.75,"color":"#ff0"},{"offset":1,"color":"#fff"}]}},"encoding":{"x":{"field":"lo","type":"quantitative","scale":{"domain":[1,4.5],"nice":false,"zero":false},"axis":{"orient":"top","values":[1,4.5],"format":"~g","title":null,"labels":true,"labelFont":"Liberation Serif","labelFontSize":38,"labelColor":"black","labelPadding":11,"labelFlush":false,"labelBound":false,"labelOverlap":false}},"x2":{"field":"hi"}}},
{"mark":{"type":"text","text":"lg(|","fontSize":40,"align":"left","baseline":"alphabetic","dy":-71},"encoding":{"x":{"datum":2.1}}},
{"mark":{"type":"text","text":"E","fontStyle":"italic","fontSize":40,"align":"left","baseline":"alphabetic","dy":-71},"encoding":{"x":{"datum":2.46}}},
{"mark":{"type":"text","text":"z","fontStyle":"italic","fontSize":28,"align":"left","baseline":"alphabetic","dy":-64},"encoding":{"x":{"datum":2.61}}},
{"mark":{"type":"text","text":"|/","fontSize":40,"align":"left","baseline":"alphabetic","dy":-71},"encoding":{"x":{"datum":2.75}}},
{"mark":{"type":"text","text":"Γ","fontStyle":"italic","fontSize":40,"align":"left","baseline":"alphabetic","dy":-71},"encoding":{"x":{"datum":2.925}}},
{"mark":{"type":"text","text":"vac","fontSize":28,"align":"left","baseline":"alphabetic","dy":-64},"encoding":{"x":{"datum":3.083}}},
{"mark":{"type":"text","text":")","fontSize":40,"align":"left","baseline":"alphabetic","dy":-71},"encoding":{"x":{"datum":3.322}}}]},
{"width":630,"height":629,"view":{"fill":"black"},"encoding":{"x":{"field":"x","type":"quantitative","scale":{"domain":[-0.5,31.5],"nice":false,"zero":false},"axis":{"title":"x"}},"y":{"field":"y","type":"quantitative","scale":{"domain":[-0.5,31.5],"nice":false,"zero":false,"reverse":true},"axis":{"title":"y"}},"color":{"field":"v","type":"quantitative","legend":null,"scale":{"domain":[1,1.2,1.75,2.5,3],"range":["#000","#240000","#f00","#ff0","#fff"],"clamp":true}}},"layer":[
{"data":{"name":"b1"},"mark":{"type":"rect","width":20.2,"height":20.2}},
{"data":{"name":"b1"},"mark":{"type":"circle","size":1100,"opacity":0.3},"encoding":{"order":{"field":"v"}}},
{"data":{"name":"b1"},"mark":{"type":"circle","size":550,"opacity":0.35},"encoding":{"order":{"field":"v"}}},
{"data":{"name":"b1o"},"mark":"rect","encoding":{"x2":{"field":"x2"},"y2":{"field":"y2"}}},
{"data":{"name":"boxb"},"mark":{"type":"rect","fill":"transparent","stroke":"white","strokeDash":[7,4],"strokeWidth":1.5},"encoding":{"x2":{"field":"x2"},"y2":{"field":"y2"},"color":{"value":null}}},
{"data":{"values":[{"x":0.46,"y":1.87,"t":"(b1)"}]},"mark":{"type":"text","fontSize":46,"align":"left","baseline":"alphabetic"},"encoding":{"text":{"field":"t"},"color":{"value":"white"}}}]},
{"width":630,"height":629,"view":{"fill":"black"},"encoding":{"x":{"field":"x","type":"quantitative","scale":{"domain":[-0.5,31.5],"nice":false,"zero":false},"axis":{"title":"x"}},"y":{"field":"y","type":"quantitative","scale":{"domain":[-0.5,31.5],"nice":false,"zero":false,"reverse":true},"axis":{"title":"y"}},"color":{"field":"v","type":"quantitative","legend":null,"scale":{"domain":[1,1.2,1.75,2.5,3],"range":["#000","#240000","#f00","#ff0","#fff"],"clamp":true}}},"layer":[
{"data":{"name":"b2"},"mark":{"type":"rect","width":20.2,"height":20.2}},
{"data":{"name":"b2"},"mark":{"type":"circle","size":1100,"opacity":0.3},"encoding":{"order":{"field":"v"}}},
{"data":{"name":"b2"},"mark":{"type":"circle","size":550,"opacity":0.35},"encoding":{"order":{"field":"v"}}},
{"data":{"name":"b2o"},"mark":"rect","encoding":{"x2":{"field":"x2"},"y2":{"field":"y2"}}},
{"data":{"name":"boxb"},"mark":{"type":"rect","fill":"transparent","stroke":"white","strokeDash":[7,4],"strokeWidth":1.5},"encoding":{"x2":{"field":"x2"},"y2":{"field":"y2"},"color":{"value":null}}},
{"data":{"values":[{"x":0.46,"y":1.87,"t":"(b2)"}]},"mark":{"type":"text","fontSize":46,"align":"left","baseline":"alphabetic"},"encoding":{"text":{"field":"t"},"color":{"value":"white"}}}]},
{"width":630,"height":629,"view":{"fill":"black"},"encoding":{"x":{"field":"x","type":"quantitative","scale":{"domain":[-0.5,31.5],"nice":false,"zero":false},"axis":{"title":"x"}},"y":{"field":"y","type":"quantitative","scale":{"domain":[-0.5,31.5],"nice":false,"zero":false,"reverse":true},"axis":{"title":"y"}},"color":{"field":"v","type":"quantitative","legend":null,"scale":{"domain":[1,1.35,2.31,3.63,4.5],"range":["#000","#240000","#f00","#ff0","#fff"],"clamp":true}}},"layer":[
{"data":{"name":"b3"},"mark":{"type":"rect","width":20.2,"height":20.2}},
{"data":{"name":"b3"},"mark":{"type":"circle","size":1100,"opacity":0.3},"encoding":{"order":{"field":"v"}}},
{"data":{"name":"b3"},"mark":{"type":"circle","size":550,"opacity":0.35},"encoding":{"order":{"field":"v"}}},
{"data":{"name":"b3o"},"mark":"rect","encoding":{"x2":{"field":"x2"},"y2":{"field":"y2"}}},
{"data":{"name":"boxb"},"mark":{"type":"rect","fill":"transparent","stroke":"white","strokeDash":[7,4],"strokeWidth":1.5},"encoding":{"x2":{"field":"x2"},"y2":{"field":"y2"},"color":{"value":null}}},
{"data":{"values":[{"x":0.46,"y":1.87,"t":"(b3)"}]},"mark":{"type":"text","fontSize":46,"align":"left","baseline":"alphabetic"},"encoding":{"text":{"field":"t"},"color":{"value":"white"}}}]}
]}
